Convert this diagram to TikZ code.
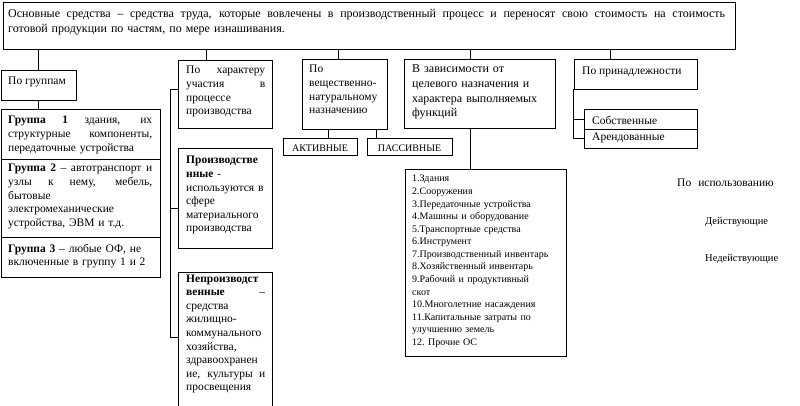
\documentclass[tikz,border=0pt]{standalone}
\usepackage{fontspec}
\setmainfont{Liberation Serif}
\usetikzlibrary{fit}
\newcommand\jst[2]{{\spaceskip=0pt\xspaceskip=0pt\relax\makebox[#1][s]{#2}}}
\begin{document}
\begin{tikzpicture}[x=1pt,y=-1pt,
  bx/.style={draw, line width=0.9pt, inner sep=0pt},
  ln/.style={line width=0.9pt},
  tx/.style={inner sep=0pt, anchor=base west, align=left},
  f12/.style={font=\fontsize{12}{14.6}\selectfont},
  f11/.style={font=\fontsize{11.5}{13.6}\selectfont},
  fr/.style={font=\fontsize{10.5}{12}\selectfont},
  f10/.style={font=\fontsize{10}{12.56}\selectfont}]
\useasboundingbox (0,0) rectangle (800,406);
\clip (0,0) rectangle (800,406);
% boxes
\node[bx, fit={(3,2)(735,49)}] (main) {};
\node[bx, fit={(1,70)(76,100)}] (grp) {};
\node[bx, fit={(1,109)(160,159)}] (g1) {};
\node[bx, fit={(1,159)(160,237)}] (g2) {};
\node[bx, fit={(1,237)(160,277)}] (g3) {};
\node[bx, fit={(178,60)(272,128)}] (char) {};
\node[bx, fit={(178,148)(272,248)}] (prod) {};
\node[bx, fit={(178,272)(272,420)}] (nprod) {};
\node[bx, fit={(302,59)(387,129)}] (vesh) {};
\node[bx, fit={(283,138)(357,155)}] (akt) {};
\node[bx, fit={(367,138)(452,155)}] (pas) {};
\node[bx, fit={(404,59)(555,128)}] (zav) {};
\node[bx, fit={(405,169)(566,356)}] (list) {};
\node[bx, fit={(574,59)(697,89)}] (prin) {};
\node[bx, fit={(584,109)(697,129)}] (sob) {};
\node[bx, fit={(584,129)(697,148)}] (arend) {};
% texts
\node[tx,f12,text width=717pt] (tmain) at (8,18) {\jst{717pt}{Основные средства – средства труда, которые вовлечены в производственный процесс и переносят свою стоимость на стоимость}\\ готовой продукции по частям, по мере изнашивания.};
\node[tx,f11] (tgrp) at (8,85) {По группам};
\node[tx,f11,text width=144pt] (tg1) at (8,124) {\jst{144pt}{\textbf{Группа 1} здания, их}\\ \jst{144pt}{структурные компоненты,}\\ передаточные устройства};
\node[tx,f11,text width=144pt] (tg2) at (8,172) {\jst{144pt}{\textbf{Группа 2} – автотранспорт и}\\ \jst{144pt}{узлы к нему, мебель,}\\ бытовые\\ электромеханические\\ устройства, ЭВМ и т.д.};
\node[tx,f11,text width=144pt] (tg3) at (8,252) {\textbf{Группа 3} – любые ОФ, не\\ включенные в группу 1 и 2};
\node[tx,f11,text width=79pt] (tchar) at (186,74) {\jst{79pt}{По характеру}\\ \jst{79pt}{участия в}\\ процессе\\ производства};
\node[tx,f11,text width=79pt] (tprod) at (186,164) {\textbf{Производстве}\\ \textbf{нные} -\\ используются в\\ сфере\\ материального\\ производства};
\node[tx,f11,text width=79pt] (tnprod) at (186,282) {\textbf{Непроизводст}\\ \jst{79pt}{\textbf{венные} –}\\ средства\\ жилищно-\\ коммунального\\ хозяйства,\\ здравоохранен\\ \jst{79pt}{ие, культуры и}\\ просвещения};
\node[tx,f11,text width=75pt] (tvesh) at (309,73) {По\\ вещественно-\\ натуральному\\ назначению};
\node[tx,f10,anchor=base] (takt) at (akt.center |- 0,152) {АКТИВНЫЕ};
\node[tx,f10,anchor=base] (tpas) at (pas.center |- 0,152) {ПАССИВНЫЕ};
\node[tx,f12,text width=140pt] (tzav) at (412,73) {В зависимости от\\ целевого назначения и\\ характера выполняемых\\ функций};
\node[tx,f10,text width=150pt] (tlist) at (412,182) {1.Здания\\ 2.Сооружения\\ 3.Передаточные устройства\\ 4.Машины и оборудование\\ 5.Транспортные средства\\ 6.Инструмент\\ 7.Производственный инвентарь\\ 8.Хозяйственный инвентарь\\ 9.Рабочий и продуктивный\\ скот\\ 10.Многолетние насаждения\\ 11.Капитальные затраты по\\ улучшению земель\\ 12.\ Прочие ОС};
\node[tx,f11] (tprin) at (582,75) {По принадлежности};
\node[tx,f11] (tsob) at (592,125) {Собственные};
\node[tx,f11] (tarend) at (592,141) {Арендованные};
\node[tx,f11] (tisp) at (677,186) {По\hspace{7pt}использованию};
\node[tx,fr] (tdey) at (705,225) {Действующие};
\node[tx,fr] (tndey) at (705,261) {Недействующие};
% connectors
\draw[ln] (grp.north) -- (grp.north |- main.south);
\draw[ln] (grp.south) -- (grp.south |- g1.north);
\coordinate (c1) at ([xshift=29pt]char.north west);
\coordinate (c2) at ([xshift=37pt]vesh.north west);
\coordinate (c3) at ([xshift=67pt]zav.north west);
\coordinate (c4) at ([xshift=37pt]prin.north west);
\foreach \c in {c1,c2,c3,c4} \draw[ln] (\c) -- (\c |- main.south);
\coordinate (v1) at ([xshift=27pt]vesh.south west);
\coordinate (v2) at ([xshift=75pt]vesh.south west);
\draw[ln] (v1) -- (v1 |- akt.north);
\draw[ln] (v2) -- (v2 |- pas.north);
\coordinate (z1) at ([xshift=67pt]zav.south west);
\draw[ln] (z1) -- (z1 |- list.north);
\coordinate (b1) at (170,89);
\coordinate (b2) at (170,208);
\coordinate (b3) at (170,337);
\draw[ln] (b1 -| char.west) -- (b1) -- (b3) -- (b3 -| nprod.west);
\draw[ln] (b2) -- (b2 -| prod.west);
\draw[ln] (prin.south west) |- (arend.west);
\draw[ln] (prin.south west |- sob.west) -- (sob.west);
\end{tikzpicture}
\end{document}
